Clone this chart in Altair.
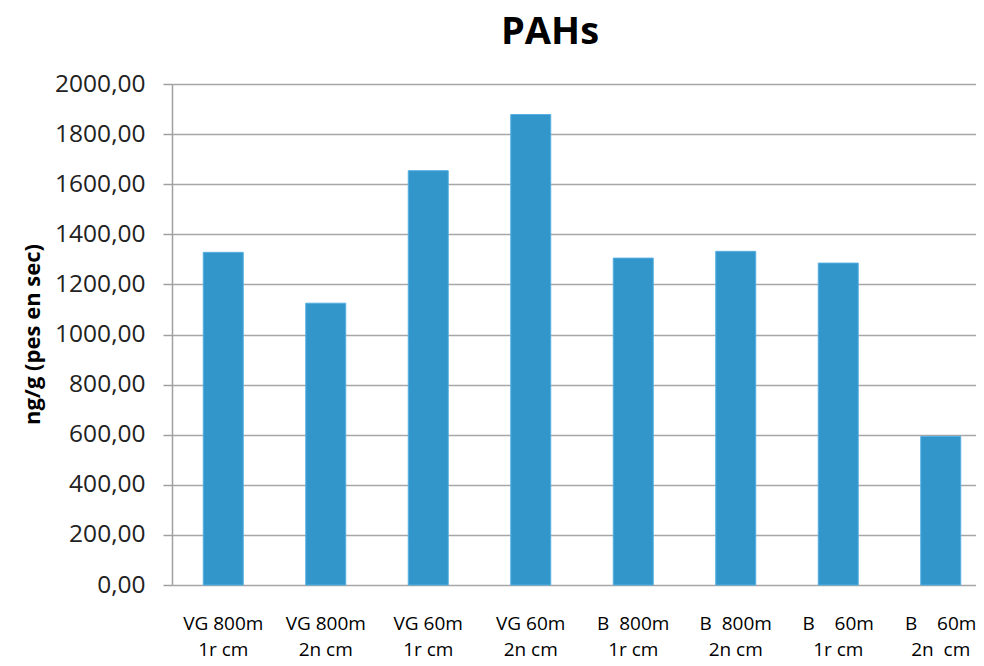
import altair as alt
import pandas as pd

sites = ["VG 800m", "VG 800m", "VG 60m", "VG 60m",
         "B\u00a0\u00a0800m", "B\u00a0\u00a0800m", "B\u00a0\u00a0\u00a0\u00a060m", "B\u00a0\u00a0\u00a0\u00a060m"]
depths = ["1r cm", "2n cm", "1r cm", "2n cm", "1r cm", "2n cm", "1r cm", "2n\u00a0\u00a0cm"]
values = [1328, 1125, 1654, 1878, 1305, 1332, 1285, 593]
y_ticks = [0, 200, 400, 600, 800, 1000, 1200, 1400, 1600, 1800, 2000]

cats = [f"{s}|{d}|{i}" for i, (s, d) in enumerate(zip(sites, depths))]
df = pd.DataFrame({"cat": cats, "value": values})

chart = alt.Chart(df).mark_bar(
    color="#3296cb", stroke="#55aee0", strokeWidth=1
).encode(
    x=alt.X("cat:N", sort=cats, title=None,
            scale=alt.Scale(range=[0, 820], paddingInner=0.61, paddingOuter=0.305),
            axis=alt.Axis(domain=False, ticks=False, labelAngle=0,
                          labelExpr="slice(split(datum.value, '|'), 0, 2)",
                          labelFont="Open Sans", labelFontSize=19,
                          labelColor="#000000", labelPadding=44, labelLineHeight=26,
                          labelBaseline="alphabetic")),
    y=alt.Y("value:Q", title="ng/g (pes en sec)",
            scale=alt.Scale(domain=[0, 2000], nice=False),
            axis=alt.Axis(values=y_ticks,
                          labelExpr="replace(format(datum.value, '.2f'), '.', ',')",
                          labelFont="Open Sans", labelFontSize=24.5, labelColor="#222222",
                          labelPadding=18, tickSize=9, tickColor="#a0a0a0", tickWidth=1.5,
                          domainColor="#a0a0a0", domainWidth=1.5,
                          gridColor="#a6a6a6", gridWidth=1.5,
                          titleFont="Open Sans", titleFontSize=22, titleFontWeight="bold",
                          titleColor="#000000", titleX=-140, titleY=250,
                          titleAlign="center", titleBaseline="middle")),
).properties(
    width=804, height=501,
    autosize=alt.AutoSizeParams(type="none"),
    padding={"left": 164, "top": 76, "right": 0, "bottom": 77},
    title=alt.TitleParams("PAHs", font="Open Sans", fontSize=38, fontWeight="bold",
                          color="#000000", anchor="middle", dx=-24, offset=19),
).configure_view(stroke=None)

chart.save("out.html", embed_options={"renderer": "svg", "actions": False})
